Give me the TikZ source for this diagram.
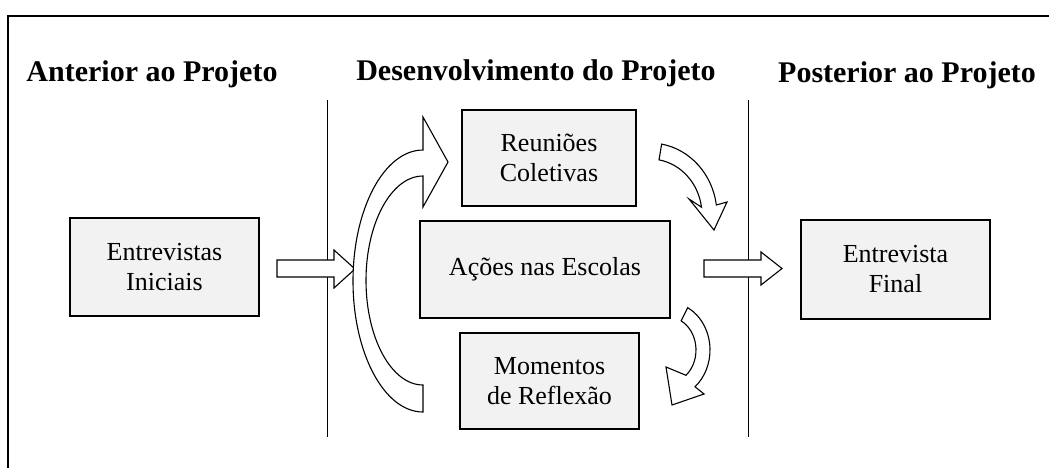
\documentclass[tikz,border=0pt]{standalone}
\usepackage{fontspec}
\setmainfont{Liberation Serif}
\definecolor{boxgray}{RGB}{242,242,242}
\begin{document}
\begin{tikzpicture}[x=1pt,y=1pt,
  box/.style={draw=black, line width=1.3pt, fill=boxgray, align=center, inner sep=0pt,
    font=\fontsize{26}{30}\selectfont},
  head/.style={font=\bfseries\fontsize{30}{34}\selectfont, anchor=base, inner sep=0pt},
  frame/.style={line width=1.6pt},
  sep/.style={line width=1pt},
  barrow/.style={draw=black, fill=white, line width=1.1pt, line join=miter}]
\useasboundingbox (0,0) rectangle (1049,-467);
\draw[frame] (8,-470) -- (8,-16) -- (1052,-16);

\node[head] (h1) at (152,-81) {Anterior ao Projeto};
\node[head] (h2) at (536,-80) {Desenvolvimento do Projeto};
\node[head] (h3) at (907,-82) {Posterior ao Projeto};

\coordinate (l1t) at (327,-100); \coordinate (l1b) at (327,-437);
\coordinate (l2t) at (748,-100); \coordinate (l2b) at (748,-437);
\draw[sep] (l1t) -- (l1b);
\draw[sep] (l2t) -- (l2b);

\node[box, minimum width=189pt, minimum height=98pt] (ini) at (164.5,-267) {Entrevistas\\Iniciais};
\node[box, minimum width=189pt, minimum height=99pt] (fin) at (895.5,-269.5) {Entrevista\\Final};
\node[box, minimum width=174pt, minimum height=96pt] (reu) at (549,-158) {Reuniões\\Coletivas};
\node[box, minimum width=250pt, minimum height=97pt] (aco) at (545,-269.5) {Ações nas Escolas};
\node[box, minimum width=179pt, minimum height=96pt] (mom) at (549.5,-381) {Momentos\\de Reflexão};

% straight block arrows
\draw[barrow] (277,-260) -- (334,-260) -- (334,-250) -- (355,-269) -- (334,-288) -- (334,-277) -- (277,-277) -- cycle;
\draw[barrow] (704,-260) -- (761,-260) -- (761,-252) -- (782,-268.5) -- (761,-285) -- (761,-277) -- (704,-277) -- cycle;

% big curved arrow
\draw[barrow] (423,-150) arc[start angle=90, end angle=270, x radius=70pt, y radius=131pt]
  -- (423,-385) arc[start angle=270, end angle=90, x radius=57pt, y radius=104.5pt]
  -- (423,-207) -- (448,-162) -- (423,-117) -- cycle;

% top right curved arrow
\coordinate (c1) at (650,-215);
\draw[barrow] ([shift={(c1)}]80:67 and 72) arc[start angle=80, end angle=8, x radius=67pt, y radius=72pt]
  -- (727,-202) -- (714,-230) -- (689,-199)
  -- ([shift={(c1)}]8:52 and 56) arc[start angle=8, end angle=80, x radius=52pt, y radius=56pt] -- cycle;

% bottom right curved arrow
\coordinate (c2) at (668,-350);
\draw[barrow] ([shift={(c2)}]62:42 and 48) arc[start angle=62, end angle=-50, x radius=42pt, y radius=48pt]
  -- (704,-394) -- (672,-405) -- (666,-367)
  -- ([shift={(c2)}]-50:28 and 33) arc[start angle=-50, end angle=62, x radius=28pt, y radius=33pt] -- cycle;
\end{tikzpicture}
\end{document}
